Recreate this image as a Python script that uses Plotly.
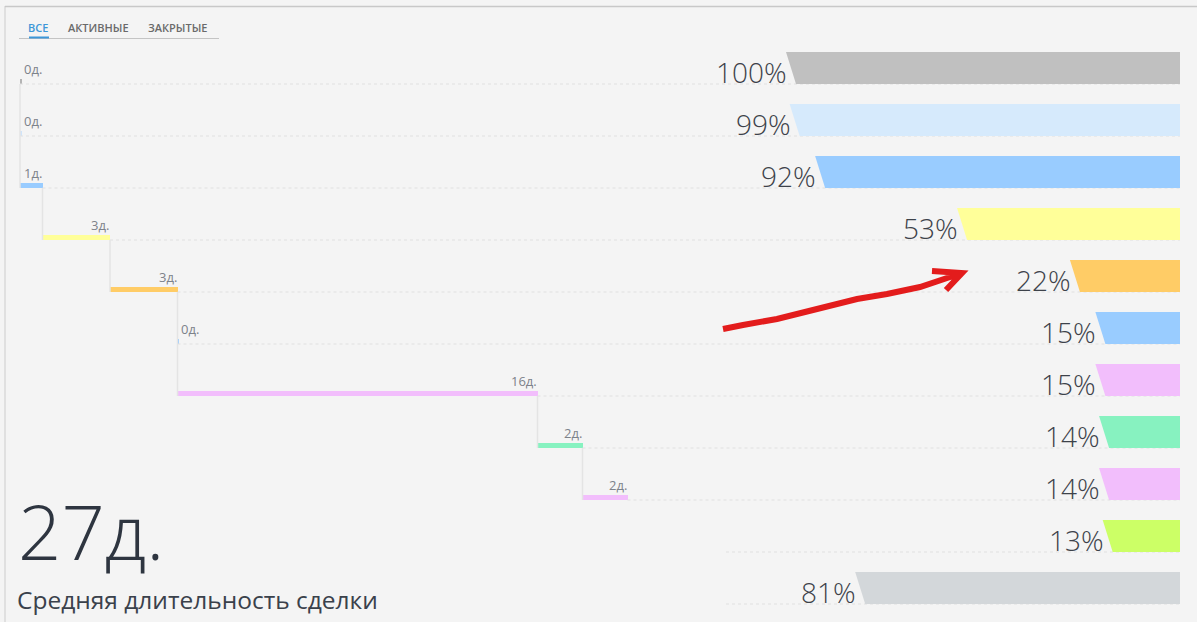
import plotly.graph_objects as go

# ---------------- data ----------------
stage_days = [0, 0, 1, 3, 3, 0, 16, 2, 2]
stage_colors = ["#b4b4b4", "#cfe4fa", "#99ccff", "#ffff99", "#ffcc66",
                "#99ccff", "#f2befc", "#87f2c0", "#f2befc"]
funnel_pct = [100, 99, 92, 53, 22, 15, 15, 14, 14, 13, 81]
funnel_colors = ["#c0c0c0", "#d6eafc", "#99ccff", "#ffff99", "#ffcc66",
                 "#99ccff", "#f2befc", "#87f2c0", "#f2befc", "#ccff66", "#d3d7da"]
tab_labels = ["ВСЕ", "АКТИВНЫЕ", "ЗАКРЫТЫЕ"]
subtitle = "Средняя длительность сделки"
day_suffix = "д."

# ---------------- geometry (pixels) ----------------
W, H = 1197, 622
ROW_PX, ROW0_C, HALF_PX = 52, 68, 16
DAY0_PX, DAY_PX = 20, 22.5
PCT0_PX, PCT_PX = 1150, 3.64
RIGHT_PX, SLANT_PX = 1180, 10
STAGE_T_PX = 5
GRID_START_PX = 726

h = HALF_PX / ROW_PX
t = STAGE_T_PX / ROW_PX
r_pct = (PCT0_PX - RIGHT_PX) / PCT_PX
r_day = (RIGHT_PX - DAY0_PX) / DAY_PX
slant = SLANT_PX / PCT_PX
FONT = "Open Sans"


def px(x):
    return x / W


def py(y):
    return 1 - y / H


fig = go.Figure()

# stage positions
starts, ends = [], []
acc = 0
for d in stage_days:
    starts.append(acc)
    acc += d
    ends.append(acc)
total = acc

# dotted guide lines (row bottoms)
gx, gy = [], []
for i in range(len(funnel_pct)):
    x0 = ends[i] if i < len(stage_days) else (GRID_START_PX - DAY0_PX) / DAY_PX
    gx += [x0, r_day, None]
    gy += [i + h, i + h, None]
fig.add_trace(go.Scatter(x=gx, y=gy, mode="lines", xaxis="x", yaxis="y",
                         line=dict(color="#e0e0e0", width=1, dash="dot"),
                         hoverinfo="skip"))

# vertical connectors between stages
cx, cy = [], []
for i in range(len(stage_days) - 1):
    cx += [ends[i], ends[i], None]
    cy += [i + h, i + 1 + h, None]
fig.add_trace(go.Scatter(x=cx, y=cy, mode="lines", xaxis="x", yaxis="y",
                         line=dict(color="#e4e4e4", width=1.5), hoverinfo="skip"))

# stage duration bars
fig.add_trace(go.Bar(orientation="h", xaxis="x", yaxis="y",
                     base=starts, x=[max(d, 0.05) for d in stage_days],
                     y=[i + h - t / 2 for i in range(len(stage_days))],
                     width=t, marker=dict(color=stage_colors, line=dict(width=0)),
                     hoverinfo="skip"))

# funnel bars (slanted left edge)
for i, (p, c) in enumerate(zip(funnel_pct, funnel_colors)):
    fig.add_trace(go.Scatter(x=[p, r_pct, r_pct, p - slant, p],
                             y=[i - h, i - h, i + h, i + h, i - h],
                             mode="lines", fill="toself", fillcolor=c,
                             line=dict(width=0, color=c), xaxis="x2", yaxis="y",
                             hoverinfo="skip"))

ann = []
# stage labels
for i, d in enumerate(stage_days):
    ann.append(dict(x=starts[i] + max(d, 1), y=i + h, xref="x", yref="y",
                    text=f"{d}{day_suffix}", showarrow=False, xanchor="right",
                    yanchor="middle", yshift=15, xshift=1,
                    font=dict(family=FONT, size=13, color="#7d828a")))
# percent labels
for i, p in enumerate(funnel_pct):
    ann.append(dict(x=p, y=i, xref="x2", yref="y", text=f"{p}%", showarrow=False,
                    xanchor="right", yanchor="middle", yshift=-4, xshift=3,
                    font=dict(family=FONT, size=28, color="#3d424a", weight=300)))
# tabs
tab_cx = [38, 98.5, 178]
tab_col = ["#3d97d8", "#6a6a6a", "#6a6a6a"]
for lab, x, c in zip(tab_labels, tab_cx, tab_col):
    ann.append(dict(x=px(x), y=py(27), xref="paper", yref="paper", text=lab,
                    showarrow=False, xanchor="center", yanchor="middle",
                    font=dict(family=FONT, size=11, color=c, weight=600)))
# big total
ann.append(dict(x=px(16), y=py(530), xref="paper", yref="paper",
                text=f"{total}{day_suffix}", showarrow=False, xanchor="left",
                yanchor="middle", font=dict(family=FONT, size=76, color="#2e3540", weight=300)))
ann.append(dict(x=px(15), y=py(599), xref="paper", yref="paper", text=subtitle,
                showarrow=False, xanchor="left", yanchor="middle",
                font=dict(family=FONT, size=24.5, color="#3a414b")))

shapes = [
    # frame
    dict(type="line", xref="paper", yref="paper", x0=px(5), x1=px(5), y0=py(6), y1=0,
         line=dict(color="#cccccc", width=1)),
    dict(type="line", xref="paper", yref="paper", x0=px(5), x1=1, y0=py(6.5), y1=py(6.5),
         line=dict(color="#c8c8c8", width=1.5)),
    # tab underline
    dict(type="line", xref="paper", yref="paper", x0=px(19), x1=px(219), y0=py(38.5), y1=py(38.5),
         line=dict(color="#c4c4c4", width=1)),
    dict(type="line", xref="paper", yref="paper", x0=px(29), x1=px(49), y0=py(37.5), y1=py(37.5),
         line=dict(color="#3d97d8", width=2)),
]

# hand-drawn red arrow
arrow_pts = [(723, 329), (743, 325), (777, 319), (813, 310), (857, 299),
             (887, 294), (920, 287), (962, 273)]
path = "M " + " L ".join(f"{px(x)},{py(y)}" for x, y in arrow_pts)
path += f" M {px(932)},{py(271)} L {px(962)},{py(273)} L {px(946)},{py(290)}"
shapes.append(dict(type="path", xref="paper", yref="paper", path=path,
                   line=dict(color="#e31c1c", width=6)))

axis_common = dict(showgrid=False, zeroline=False, showticklabels=False,
                   showline=False, ticks="", fixedrange=True)
fig.update_layout(
    width=W, height=H,
    margin=dict(l=0, r=0, t=0, b=0, pad=0),
    paper_bgcolor="#f4f4f4", plot_bgcolor="#f4f4f4",
    showlegend=False, hovermode=False, bargap=0,
    xaxis=dict(range=[-DAY0_PX / DAY_PX, (W - DAY0_PX) / DAY_PX], **axis_common),
    xaxis2=dict(range=[PCT0_PX / PCT_PX, (PCT0_PX - W) / PCT_PX], overlaying="x",
                side="top", **axis_common),
    yaxis=dict(range=[(H - ROW0_C) / ROW_PX, -ROW0_C / ROW_PX], **axis_common),
    annotations=ann, shapes=shapes,
)

fig.write_html("out.html", config={"displayModeBar": False},
               post_script="document.body.style.margin='0';document.body.style.overflow='hidden';")
